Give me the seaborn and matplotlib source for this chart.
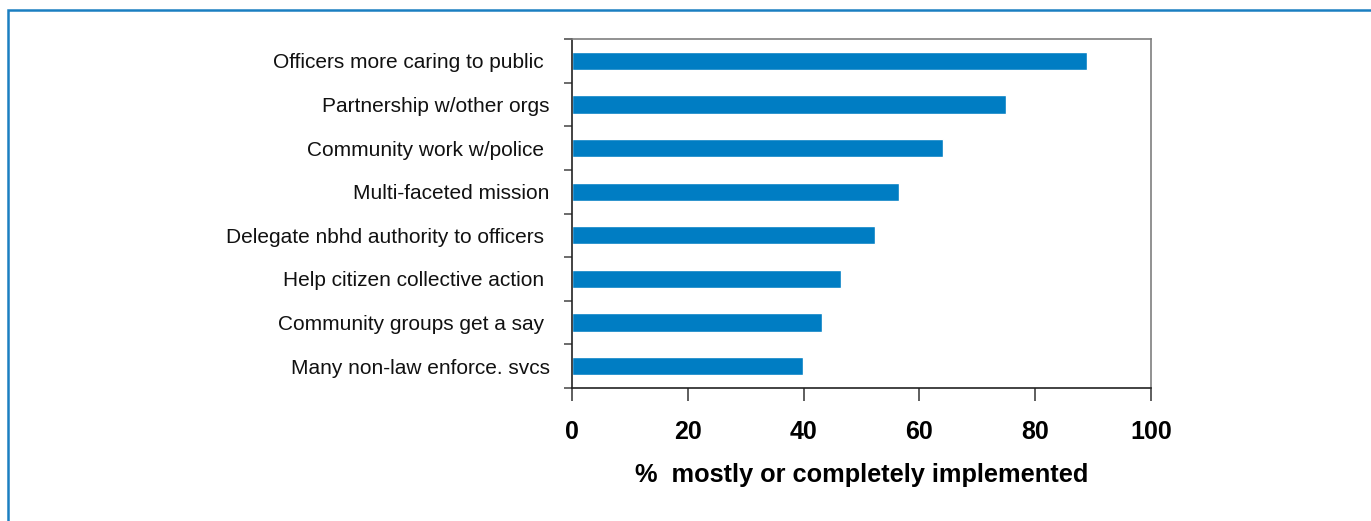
import matplotlib
matplotlib.use("Agg")
import matplotlib.pyplot as plt
from matplotlib.patches import Rectangle
from matplotlib.ticker import FixedLocator
import pandas as pd
import seaborn as sns

# Community policing elements and share of agencies reporting them implemented
categories = [
    "Officers more caring to public ",
    "Partnership w/other orgs",
    "Community work w/police ",
    "Multi-faceted mission",
    "Delegate nbhd authority to officers ",
    "Help citizen collective action ",
    "Community groups get a say ",
    "Many non-law enforce. svcs",
]
values = [88.9, 75.0, 64.0, 56.5, 52.4, 46.5, 43.2, 39.9]
x_ticks = [0, 20, 40, 60, 80, 100]
x_label = "%  mostly or completely implemented"

df = pd.DataFrame({"element": categories, "pct": values})

sns.set_theme(style="white")
plt.rcParams["font.family"] = ["Liberation Sans", "DejaVu Sans"]

fig = plt.figure(figsize=(13.71, 5.21), dpi=100)
ax = fig.add_axes([572 / 1371, 1 - 388 / 521, 579 / 1371, 349 / 521])

sns.barplot(data=df, x="pct", y="element", orient="h", color="#007dc3",
            saturation=1, width=0.42, ax=ax)

ax.set_xlim(0, 100)
ax.set_ylim(len(categories) - 0.5, -0.5)
ax.set_xticks(x_ticks)
ax.set_xticklabels([str(t) for t in x_ticks], fontsize=18, fontweight="bold")
ax.set_xlabel(x_label, fontsize=18.3, fontweight="bold", labelpad=14,
              color="#000000")
ax.set_ylabel("")

# category labels centred on bars, tick marks on category boundaries
ax.tick_params(axis="y", which="major", length=0, pad=16, labelsize=15,
               labelcolor="#111111")
ax.yaxis.set_minor_locator(FixedLocator([i - 0.5 for i in range(len(categories) + 1)]))
ax.tick_params(axis="y", which="minor", left=True, length=6, width=1.1,
               color="#444444", direction="out")
ax.tick_params(axis="x", which="major", bottom=True, length=9, width=1.1,
               color="#333333", direction="out", pad=14, labelcolor="#000000")

for side in ("left", "bottom"):
    ax.spines[side].set_color("#222222")
    ax.spines[side].set_linewidth(1.2)
for side in ("top", "right"):
    ax.spines[side].set_color("#7f7f7f")
    ax.spines[side].set_linewidth(1.2)
    ax.spines[side].set_visible(True)

# outer blue border running off the right and bottom edges
fig.patches.append(Rectangle((7.5 / 1371, -0.1), 1.2, 1 - 9.5 / 521 + 0.1,
                             transform=fig.transFigure, fill=False,
                             edgecolor="#1a7fc1", linewidth=1.8))

fig.savefig("out.png", dpi=100)
